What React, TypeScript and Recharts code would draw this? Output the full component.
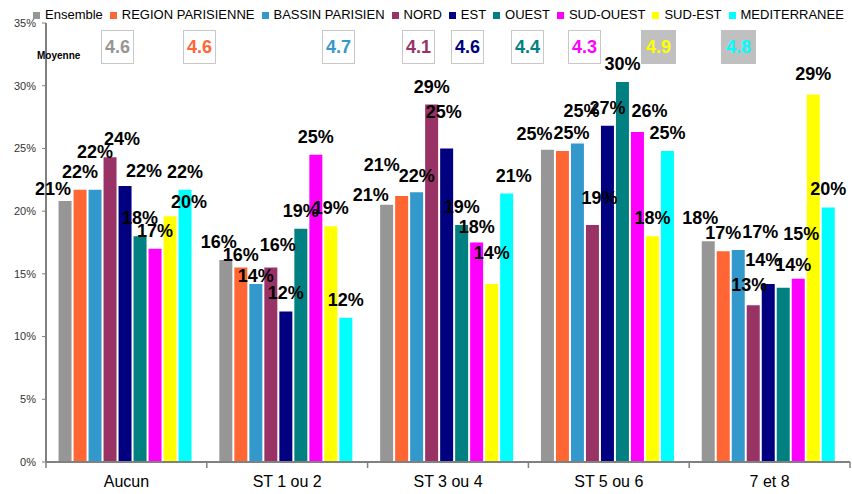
import { Bar, BarChart, LabelList, XAxis, YAxis } from "recharts";

const categories = ["Aucun", "ST 1 ou 2", "ST 3 ou 4", "ST 5 ou 6", "7 et 8"];

// % per region, in category order
const ensemble = [20.8, 16.1, 20.5, 24.9, 17.6];
const regionParisienne = [21.7, 15.5, 21.2, 24.8, 16.8];
const bassinParisien = [21.7, 14.2, 21.5, 25.4, 16.9];
const nord = [24.3, 15.5, 28.5, 18.9, 12.5];
const est = [22.0, 12.0, 25.0, 26.8, 14.2];
const ouest = [18.0, 18.6, 18.9, 30.3, 13.9];
const sudOuest = [17.0, 24.5, 17.5, 26.3, 14.6];
const sudEst = [19.6, 18.8, 14.2, 18.0, 29.3];
const mediterranee = [21.7, 11.5, 21.4, 24.8, 20.3];

// "Moyenne" per region, same order as the series
const moyennes = [4.6, 4.6, 4.7, 4.1, 4.6, 4.4, 4.3, 4.9, 4.8];

const yTicks = [0, 5, 10, 15, 20, 25, 30, 35];

const series = [
  { key: "Ensemble", values: ensemble, color: "#969696" },
  { key: "REGION PARISIENNE", values: regionParisienne, color: "#FF6633" },
  { key: "BASSIN PARISIEN", values: bassinParisien, color: "#3399CC" },
  { key: "NORD", values: nord, color: "#993366" },
  { key: "EST", values: est, color: "#000080" },
  { key: "OUEST", values: ouest, color: "#008080" },
  { key: "SUD-OUEST", values: sudOuest, color: "#FF00FF" },
  { key: "SUD-EST", values: sudEst, color: "#FFFF00" },
  { key: "MEDITERRANEE", values: mediterranee, color: "#00FFFF" },
];

// hand-placed nudges of the value labels, [dx, dy] per series x category
const labelShift = [
  [[-12, 6], [-7, 0], [-16, 8], [-13, 2], [-8, -5]],
  [[0, 0], [0, 5], [-20, -13], [9, 0], [0, 0]],
  [[0, -20], [0, 10], [0, 2], [4, -14], [22, 0]],
  [[12, 0], [7, -5], [0, 0], [7, -9], [-4, -2]],
  [[19, 3], [0, 0], [-3, -18], [0, 0], [-5, -6]],
  [[0, 0], [0, 0], [0, 0], [0, 0], [10, -5]],
  [[0, 0], [0, 0], [0, 2], [12, -3], [3, -27]],
  [[19, 4], [0, 0], [0, -13], [0, 0], [0, -2]],
  [[0, 0], [0, 0], [7, 0], [0, 0], [0, 0]],
];

// where each "Moyenne" box sits, and which ones are shaded
const boxLeft = [101, 183, 322, 402, 451, 511, 568, 641, 721];
const boxShaded = [false, false, false, false, false, false, false, true, true];

const rows = categories.map((name, i) => {
  const row: Record<string, string | number> = { name };
  series.forEach((s) => (row[s.key] = s.values[i]));
  return row;
});

const FONT = "Arial, 'Liberation Sans', sans-serif";
const AXIS = "#808080";

const valueLabel = (si: number) => (props: any) => {
  const { x, y, width, value, index } = props;
  const [dx, dy] = labelShift[si][index] || [0, 0];
  return (
    <text
      x={Number(x) + Number(width) / 2 + dx}
      y={Number(y) - 12 + dy}
      textAnchor="middle"
      style={{ fontSize: 18, fontWeight: 700, fill: "#000", fontFamily: FONT }}
    >
      {`${Math.round(Number(value))}%`}
    </text>
  );
};

// category label plus Excel-style tick marks on the band edges
const CategoryTick = (props: any) => {
  const { x, y, payload, index, visibleTicksCount } = props;
  const half = payload?.offset ?? 0;
  const last = index === visibleTicksCount - 1;
  return (
    <g>
      <line x1={x - half} x2={x - half} y1={y} y2={y + 6} stroke={AXIS} strokeWidth={1.5} />
      {last && <line x1={x + half} x2={x + half} y1={y} y2={y + 6} stroke={AXIS} strokeWidth={1.5} />}
      <text x={x} y={y + 25} textAnchor="middle" style={{ fontSize: 16, fill: "#000", fontFamily: FONT }}>
        {payload.value}
      </text>
    </g>
  );
};

export default function App() {
  return (
    <div style={{ position: "absolute", left: 0, top: 0, width: 852, height: 494, fontFamily: FONT, background: "#fff" }}>
      <BarChart
        width={852}
        height={494}
        data={rows}
        margin={{ top: 23, right: 2, bottom: 0, left: 0 }}
        barCategoryGap="7.8%"
        barGap={2}
      >
        <XAxis
          dataKey="name"
          height={32}
          tickLine={false}
          tickSize={0}
          tickMargin={0}
          axisLine={{ stroke: AXIS, strokeWidth: 2 }}
          tick={<CategoryTick />}
        />
        <YAxis
          width={46}
          domain={[0, 35]}
          ticks={yTicks}
          tickFormatter={(v) => `${v}%`}
          tick={{ fontSize: 11, fill: "#333", fontFamily: FONT }}
          tickSize={4}
          tickMargin={6}
          tickLine={{ stroke: AXIS }}
          axisLine={{ stroke: AXIS, strokeWidth: 2 }}
        />
        {series.map((s, si) => (
          <Bar key={s.key} dataKey={s.key} fill={s.color} isAnimationActive={false}>
            <LabelList dataKey={s.key} content={valueLabel(si)} />
          </Bar>
        ))}
      </BarChart>

      {/* legend */}
      <div style={{ position: "absolute", left: 33, top: 7, display: "flex", alignItems: "center", fontSize: 13, lineHeight: "16px", color: "#000", whiteSpace: "nowrap" }}>
        {series.map((s) => (
          <div key={s.key} style={{ display: "flex", alignItems: "center", marginRight: 7 }}>
            <span style={{ width: 7, height: 7, background: s.color, marginRight: 5, display: "inline-block" }} />
            <span>{s.key}</span>
          </div>
        ))}
      </div>

      <div style={{ position: "absolute", left: 37, top: 50, fontSize: 10, fontWeight: 700, color: "#000" }}>Moyenne</div>
      {moyennes.map((m, i) => (
        <div
          key={i}
          style={{
            position: "absolute",
            left: boxLeft[i],
            top: 30,
            width: boxShaded[i] ? 35 : 33,
            height: 34,
            boxSizing: "border-box",
            border: boxShaded[i] ? "none" : "1px solid #c8c8c8",
            background: boxShaded[i] ? "#c0c0c0" : "#fff",
            color: series[i].color,
            fontSize: 18,
            fontWeight: 700,
            display: "flex",
            alignItems: "center",
            justifyContent: "center",
          }}
        >
          {m.toFixed(1)}
        </div>
      ))}
    </div>
  );
}
